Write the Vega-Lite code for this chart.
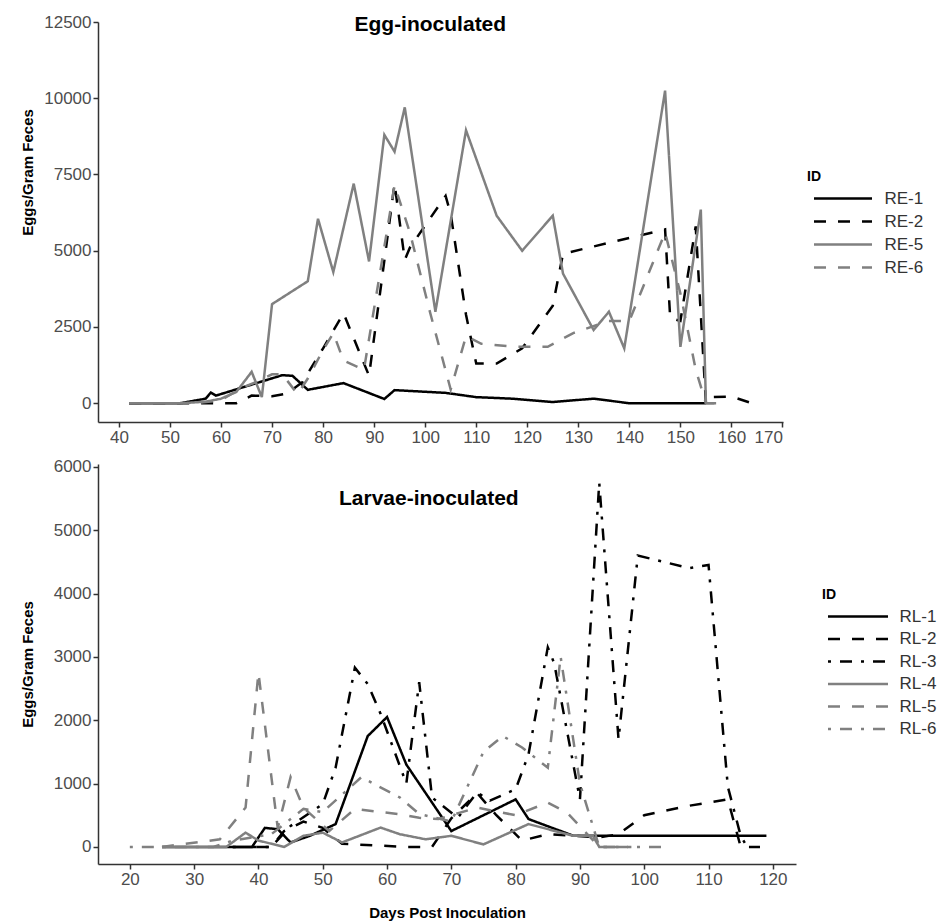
{
  "$schema": "https://vega.github.io/schema/vega-lite/v6.json",
  "background": "white",
  "padding": {"left": 20, "top": 13, "right": 5, "bottom": 2},
  "config": {
    "font": "Liberation Sans",
    "view": {"stroke": null},
    "concat": {"spacing": 12},
    "axis": {
      "grid": false, "domainColor": "#333333", "domainWidth": 1.5,
      "tickColor": "#333333", "tickWidth": 1.5, "tickSize": 5,
      "labelFont": "Liberation Sans", "labelFontSize": 17, "labelColor": "#4d4d4d", "labelPadding": 2,
      "titleFont": "Liberation Sans", "titleFontSize": 15, "titleFontWeight": "bold", "titleColor": "#000000"
    },
    "legend": {
      "titleFont": "Liberation Sans", "titleFontSize": 14, "titleFontWeight": "bold", "titleColor": "#000000",
      "labelFont": "Liberation Sans", "labelFontSize": 17, "labelColor": "#333333"
    }
  },
  "datasets": {
    "egg": [
      {"ID": "RE-1", "day": 42, "epg": 0}, {"ID": "RE-1", "day": 52, "epg": 0}, {"ID": "RE-1", "day": 57, "epg": 150}, {"ID": "RE-1", "day": 58, "epg": 350}, {"ID": "RE-1", "day": 59, "epg": 250}, {"ID": "RE-1", "day": 72, "epg": 920}, {"ID": "RE-1", "day": 74, "epg": 900}, {"ID": "RE-1", "day": 77, "epg": 440}, {"ID": "RE-1", "day": 84, "epg": 660}, {"ID": "RE-1", "day": 92, "epg": 140}, {"ID": "RE-1", "day": 94, "epg": 430}, {"ID": "RE-1", "day": 104, "epg": 340}, {"ID": "RE-1", "day": 110, "epg": 200}, {"ID": "RE-1", "day": 117, "epg": 150}, {"ID": "RE-1", "day": 125, "epg": 40}, {"ID": "RE-1", "day": 133, "epg": 150}, {"ID": "RE-1", "day": 140, "epg": 0}, {"ID": "RE-1", "day": 155, "epg": 0},
      {"ID": "RE-2", "day": 42, "epg": 0}, {"ID": "RE-2", "day": 63, "epg": 0}, {"ID": "RE-2", "day": 66, "epg": 250}, {"ID": "RE-2", "day": 70, "epg": 230}, {"ID": "RE-2", "day": 73, "epg": 320}, {"ID": "RE-2", "day": 76, "epg": 700}, {"ID": "RE-2", "day": 80, "epg": 1800}, {"ID": "RE-2", "day": 84, "epg": 2950}, {"ID": "RE-2", "day": 89, "epg": 900}, {"ID": "RE-2", "day": 94, "epg": 7200}, {"ID": "RE-2", "day": 96, "epg": 4700}, {"ID": "RE-2", "day": 97, "epg": 5100}, {"ID": "RE-2", "day": 104, "epg": 6800}, {"ID": "RE-2", "day": 105, "epg": 6200}, {"ID": "RE-2", "day": 108, "epg": 2900}, {"ID": "RE-2", "day": 110, "epg": 1300}, {"ID": "RE-2", "day": 114, "epg": 1300}, {"ID": "RE-2", "day": 119, "epg": 1800}, {"ID": "RE-2", "day": 125, "epg": 3200}, {"ID": "RE-2", "day": 127, "epg": 4900}, {"ID": "RE-2", "day": 147, "epg": 5700}, {"ID": "RE-2", "day": 148, "epg": 2800}, {"ID": "RE-2", "day": 150, "epg": 2700}, {"ID": "RE-2", "day": 153, "epg": 5800}, {"ID": "RE-2", "day": 155, "epg": 0}, {"ID": "RE-2", "day": 156, "epg": 200}, {"ID": "RE-2", "day": 160, "epg": 220}, {"ID": "RE-2", "day": 164, "epg": 0},
      {"ID": "RE-5", "day": 42, "epg": 0}, {"ID": "RE-5", "day": 52, "epg": 0}, {"ID": "RE-5", "day": 57, "epg": 50}, {"ID": "RE-5", "day": 60, "epg": 150}, {"ID": "RE-5", "day": 63, "epg": 370}, {"ID": "RE-5", "day": 66, "epg": 1030}, {"ID": "RE-5", "day": 68, "epg": 200}, {"ID": "RE-5", "day": 70, "epg": 3250}, {"ID": "RE-5", "day": 77, "epg": 4000}, {"ID": "RE-5", "day": 79, "epg": 6050}, {"ID": "RE-5", "day": 82, "epg": 4300}, {"ID": "RE-5", "day": 86, "epg": 7200}, {"ID": "RE-5", "day": 89, "epg": 4650}, {"ID": "RE-5", "day": 92, "epg": 8800}, {"ID": "RE-5", "day": 94, "epg": 8250}, {"ID": "RE-5", "day": 96, "epg": 9700}, {"ID": "RE-5", "day": 102, "epg": 3000}, {"ID": "RE-5", "day": 108, "epg": 8950}, {"ID": "RE-5", "day": 114, "epg": 6150}, {"ID": "RE-5", "day": 119, "epg": 5000}, {"ID": "RE-5", "day": 125, "epg": 6150}, {"ID": "RE-5", "day": 127, "epg": 4250}, {"ID": "RE-5", "day": 133, "epg": 2400}, {"ID": "RE-5", "day": 136, "epg": 3000}, {"ID": "RE-5", "day": 139, "epg": 1800}, {"ID": "RE-5", "day": 147, "epg": 10250}, {"ID": "RE-5", "day": 150, "epg": 1850}, {"ID": "RE-5", "day": 154, "epg": 6350}, {"ID": "RE-5", "day": 155, "epg": 0}, {"ID": "RE-5", "day": 157, "epg": 0},
      {"ID": "RE-6", "day": 42, "epg": 0}, {"ID": "RE-6", "day": 55, "epg": 0}, {"ID": "RE-6", "day": 60, "epg": 100}, {"ID": "RE-6", "day": 64, "epg": 500}, {"ID": "RE-6", "day": 67, "epg": 700}, {"ID": "RE-6", "day": 70, "epg": 950}, {"ID": "RE-6", "day": 72, "epg": 950}, {"ID": "RE-6", "day": 75, "epg": 300}, {"ID": "RE-6", "day": 77, "epg": 810}, {"ID": "RE-6", "day": 80, "epg": 1750}, {"ID": "RE-6", "day": 82, "epg": 2300}, {"ID": "RE-6", "day": 84, "epg": 1400}, {"ID": "RE-6", "day": 88, "epg": 1100}, {"ID": "RE-6", "day": 94, "epg": 7150}, {"ID": "RE-6", "day": 97, "epg": 5600}, {"ID": "RE-6", "day": 101, "epg": 2950}, {"ID": "RE-6", "day": 105, "epg": 450}, {"ID": "RE-6", "day": 108, "epg": 2200}, {"ID": "RE-6", "day": 111, "epg": 1950}, {"ID": "RE-6", "day": 118, "epg": 1850}, {"ID": "RE-6", "day": 124, "epg": 1850}, {"ID": "RE-6", "day": 129, "epg": 2300}, {"ID": "RE-6", "day": 136, "epg": 2700}, {"ID": "RE-6", "day": 140, "epg": 2700}, {"ID": "RE-6", "day": 147, "epg": 5600}, {"ID": "RE-6", "day": 150, "epg": 3600}, {"ID": "RE-6", "day": 153, "epg": 1100}, {"ID": "RE-6", "day": 155, "epg": 0}, {"ID": "RE-6", "day": 157, "epg": 0}
    ],
    "larvae": [
      {"ID": "RL-1", "day": 25, "epg": 0}, {"ID": "RL-1", "day": 39, "epg": 0}, {"ID": "RL-1", "day": 41, "epg": 300}, {"ID": "RL-1", "day": 43, "epg": 280}, {"ID": "RL-1", "day": 45, "epg": 70}, {"ID": "RL-1", "day": 48, "epg": 175}, {"ID": "RL-1", "day": 52, "epg": 360}, {"ID": "RL-1", "day": 57, "epg": 1750}, {"ID": "RL-1", "day": 60, "epg": 2050}, {"ID": "RL-1", "day": 63, "epg": 1300}, {"ID": "RL-1", "day": 70, "epg": 250}, {"ID": "RL-1", "day": 80, "epg": 750}, {"ID": "RL-1", "day": 82, "epg": 440}, {"ID": "RL-1", "day": 89, "epg": 175}, {"ID": "RL-1", "day": 119, "epg": 175},
      {"ID": "RL-2", "day": 36, "epg": 0}, {"ID": "RL-2", "day": 42, "epg": 0}, {"ID": "RL-2", "day": 44, "epg": 250}, {"ID": "RL-2", "day": 47, "epg": 400}, {"ID": "RL-2", "day": 50, "epg": 300}, {"ID": "RL-2", "day": 53, "epg": 50}, {"ID": "RL-2", "day": 63, "epg": 0}, {"ID": "RL-2", "day": 67, "epg": 0}, {"ID": "RL-2", "day": 70, "epg": 450}, {"ID": "RL-2", "day": 74, "epg": 850}, {"ID": "RL-2", "day": 77, "epg": 500}, {"ID": "RL-2", "day": 81, "epg": 100}, {"ID": "RL-2", "day": 85, "epg": 200}, {"ID": "RL-2", "day": 93, "epg": 150}, {"ID": "RL-2", "day": 96, "epg": 200}, {"ID": "RL-2", "day": 100, "epg": 500}, {"ID": "RL-2", "day": 107, "epg": 650}, {"ID": "RL-2", "day": 113, "epg": 750}, {"ID": "RL-2", "day": 115, "epg": 0}, {"ID": "RL-2", "day": 118, "epg": 0},
      {"ID": "RL-3", "day": 36, "epg": 0}, {"ID": "RL-3", "day": 42, "epg": 0}, {"ID": "RL-3", "day": 45, "epg": 330}, {"ID": "RL-3", "day": 50, "epg": 675}, {"ID": "RL-3", "day": 52, "epg": 1250}, {"ID": "RL-3", "day": 55, "epg": 2830}, {"ID": "RL-3", "day": 57, "epg": 2570}, {"ID": "RL-3", "day": 59, "epg": 2100}, {"ID": "RL-3", "day": 63, "epg": 1000}, {"ID": "RL-3", "day": 65, "epg": 2600}, {"ID": "RL-3", "day": 67, "epg": 780}, {"ID": "RL-3", "day": 71, "epg": 460}, {"ID": "RL-3", "day": 74, "epg": 860}, {"ID": "RL-3", "day": 76, "epg": 730}, {"ID": "RL-3", "day": 80, "epg": 910}, {"ID": "RL-3", "day": 82, "epg": 1460}, {"ID": "RL-3", "day": 85, "epg": 3150}, {"ID": "RL-3", "day": 86, "epg": 2900}, {"ID": "RL-3", "day": 90, "epg": 750}, {"ID": "RL-3", "day": 93, "epg": 5750}, {"ID": "RL-3", "day": 96, "epg": 1700}, {"ID": "RL-3", "day": 99, "epg": 4600}, {"ID": "RL-3", "day": 107, "epg": 4400}, {"ID": "RL-3", "day": 110, "epg": 4450}, {"ID": "RL-3", "day": 113, "epg": 950}, {"ID": "RL-3", "day": 115, "epg": 175}, {"ID": "RL-3", "day": 116, "epg": 0},
      {"ID": "RL-4", "day": 25, "epg": 0}, {"ID": "RL-4", "day": 35, "epg": 0}, {"ID": "RL-4", "day": 38, "epg": 225}, {"ID": "RL-4", "day": 40, "epg": 100}, {"ID": "RL-4", "day": 44, "epg": 0}, {"ID": "RL-4", "day": 47, "epg": 175}, {"ID": "RL-4", "day": 50, "epg": 225}, {"ID": "RL-4", "day": 53, "epg": 70}, {"ID": "RL-4", "day": 59, "epg": 305}, {"ID": "RL-4", "day": 62, "epg": 200}, {"ID": "RL-4", "day": 66, "epg": 120}, {"ID": "RL-4", "day": 70, "epg": 175}, {"ID": "RL-4", "day": 75, "epg": 40}, {"ID": "RL-4", "day": 82, "epg": 360}, {"ID": "RL-4", "day": 89, "epg": 175}, {"ID": "RL-4", "day": 92, "epg": 175}, {"ID": "RL-4", "day": 93, "epg": 0}, {"ID": "RL-4", "day": 96, "epg": 0},
      {"ID": "RL-5", "day": 25, "epg": 0}, {"ID": "RL-5", "day": 34, "epg": 120}, {"ID": "RL-5", "day": 38, "epg": 620}, {"ID": "RL-5", "day": 40, "epg": 2750}, {"ID": "RL-5", "day": 43, "epg": 300}, {"ID": "RL-5", "day": 45, "epg": 1100}, {"ID": "RL-5", "day": 47, "epg": 620}, {"ID": "RL-5", "day": 51, "epg": 250}, {"ID": "RL-5", "day": 55, "epg": 600}, {"ID": "RL-5", "day": 62, "epg": 515}, {"ID": "RL-5", "day": 65, "epg": 460}, {"ID": "RL-5", "day": 68, "epg": 440}, {"ID": "RL-5", "day": 74, "epg": 620}, {"ID": "RL-5", "day": 80, "epg": 500}, {"ID": "RL-5", "day": 85, "epg": 700}, {"ID": "RL-5", "day": 88, "epg": 540}, {"ID": "RL-5", "day": 93, "epg": 0}, {"ID": "RL-5", "day": 98, "epg": 0},
      {"ID": "RL-6", "day": 20, "epg": 0}, {"ID": "RL-6", "day": 33, "epg": 0}, {"ID": "RL-6", "day": 36, "epg": 100}, {"ID": "RL-6", "day": 42, "epg": 200}, {"ID": "RL-6", "day": 47, "epg": 600}, {"ID": "RL-6", "day": 50, "epg": 550}, {"ID": "RL-6", "day": 56, "epg": 1100}, {"ID": "RL-6", "day": 62, "epg": 780}, {"ID": "RL-6", "day": 65, "epg": 520}, {"ID": "RL-6", "day": 70, "epg": 400}, {"ID": "RL-6", "day": 75, "epg": 1500}, {"ID": "RL-6", "day": 78, "epg": 1750}, {"ID": "RL-6", "day": 81, "epg": 1570}, {"ID": "RL-6", "day": 85, "epg": 1250}, {"ID": "RL-6", "day": 87, "epg": 3000}, {"ID": "RL-6", "day": 90, "epg": 1000}, {"ID": "RL-6", "day": 93, "epg": 0}, {"ID": "RL-6", "day": 103, "epg": 0}
    ]
  },
  "vconcat": [
    {
      "width": 685, "height": 400,
      "layer": [
        {
          "data": {"name": "egg"},
          "mark": {"type": "line", "strokeWidth": 2.5, "strokeCap": "butt"},
          "encoding": {
            "x": {"field": "day", "type": "quantitative", "scale": {"domain": [35.9, 170.1], "nice": false, "zero": false},
                  "axis": {"values": [40, 50, 60, 70, 80, 90, 100, 110, 120, 130, 140, 150, 160, 170], "title": null}},
            "y": {"field": "epg", "type": "quantitative", "scale": {"domain": [-615, 12500], "nice": false},
                  "axis": {"values": [0, 2500, 5000, 7500, 10000, 12500], "format": "d", "title": "Eggs/Gram Feces", "titleX": -63, "titleY": 150}},
            "color": {"field": "ID", "type": "nominal",
                      "scale": {"domain": ["RE-1", "RE-2", "RE-5", "RE-6"], "range": ["#000000", "#000000", "#808080", "#808080"]},
                      "legend": {"title": "ID", "orient": "none", "legendX": 709, "legendY": 148, "symbolType": "M-2.9,0H2.9", "symbolSize": 400, "symbolStrokeWidth": 2.5, "symbolOffset": 24.5, "labelOffset": 30, "titlePadding": 3, "rowPadding": 3}},
            "strokeDash": {"field": "ID", "type": "nominal",
                      "scale": {"domain": ["RE-1", "RE-2", "RE-5", "RE-6"], "range": [[1, 0], [12, 12], [1, 0], [12, 12]]},
                      "legend": {"title": "ID", "orient": "none", "legendX": 709, "legendY": 148, "symbolType": "M-2.9,0H2.9", "symbolSize": 400, "symbolStrokeWidth": 2.5, "symbolOffset": 24.5, "labelOffset": 30, "titlePadding": 3, "rowPadding": 3}}
          }
        },
        {
          "data": {"values": [{}]},
          "mark": {"type": "text", "text": "Egg-inoculated", "font": "Liberation Sans", "fontSize": 21, "fontWeight": "bold", "color": "#000000", "align": "center", "baseline": "alphabetic"},
          "encoding": {"x": {"datum": 101}, "y": {"datum": 12200}}
        }
      ]
    },
    {
      "width": 698, "height": 400,
      "layer": [
        {
          "data": {"name": "larvae"},
          "mark": {"type": "line", "strokeWidth": 2.5, "strokeCap": "butt"},
          "encoding": {
            "x": {"field": "day", "type": "quantitative", "scale": {"domain": [15.05, 123.6], "nice": false, "zero": false},
                  "axis": {"values": [20, 30, 40, 50, 60, 70, 80, 90, 100, 110, 120], "title": "Days Post Inoculation", "titlePadding": 18}},
            "y": {"field": "epg", "type": "quantitative", "scale": {"domain": [-270, 6045], "nice": false},
                  "axis": {"values": [0, 1000, 2000, 3000, 4000, 5000, 6000], "format": "d", "title": "Eggs/Gram Feces", "titleX": -63}},
            "color": {"field": "ID", "type": "nominal",
                      "scale": {"domain": ["RL-1", "RL-2", "RL-3", "RL-4", "RL-5", "RL-6"], "range": ["#000000", "#000000", "#000000", "#808080", "#808080", "#808080"]},
                      "legend": {"title": "ID", "orient": "none", "legendX": 724, "legendY": 124, "symbolType": "M-3,0H3", "symbolSize": 400, "symbolStrokeWidth": 2.5, "symbolOffset": 24.5, "labelOffset": 30, "titlePadding": 3, "rowPadding": 2.5}},
            "strokeDash": {"field": "ID", "type": "nominal",
                      "scale": {"domain": ["RL-1", "RL-2", "RL-3", "RL-4", "RL-5", "RL-6"], "range": [[1, 0], [12, 12], [3, 9, 12, 9], [1, 0], [12, 12], [3, 9, 12, 9]]},
                      "legend": {"title": "ID", "orient": "none", "legendX": 724, "legendY": 124, "symbolType": "M-3,0H3", "symbolSize": 400, "symbolStrokeWidth": 2.5, "symbolOffset": 24.5, "labelOffset": 30, "titlePadding": 3, "rowPadding": 2.5}}
          }
        },
        {
          "data": {"values": [{}]},
          "mark": {"type": "text", "text": "Larvae-inoculated", "font": "Liberation Sans", "fontSize": 21, "fontWeight": "bold", "color": "#000000", "align": "center", "baseline": "alphabetic"},
          "encoding": {"x": {"datum": 66.5}, "y": {"datum": 5400}}
        }
      ]
    }
  ],
  "resolve": {"scale": {"color": "independent", "strokeDash": "independent", "x": "independent", "y": "independent"}}
}
